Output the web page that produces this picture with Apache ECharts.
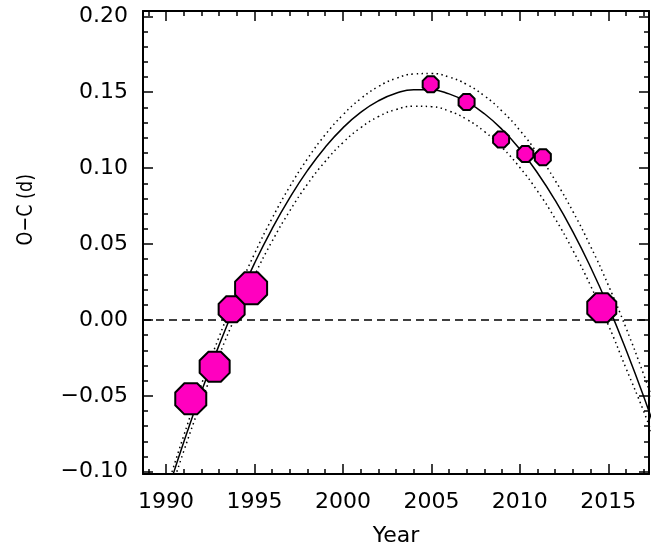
<!DOCTYPE html>
<html>
<head>
<meta charset="utf-8">
<script src="https://cdn.jsdelivr.net/npm/echarts@6/dist/echarts.min.js"></script>
<style>html,body{margin:0;padding:0;background:#fff}#c{width:670px;height:552px}</style>
</head>
<body>
<div id="c"></div>
<script>
// ---- data ----
const obsYears = [1991.40, 1992.75, 1993.71, 1994.81, 2004.96, 2006.99, 2008.94, 2010.31, 2011.30, 2014.63];
const obsOC    = [-0.0520, -0.0308, 0.0070, 0.0209, 0.1553, 0.1436, 0.1188, 0.1093, 0.1071, 0.0080];
const fitYears = [1990,1991,1992,1993,1994,1995,1996,1997,1998,1999,2000,2001,2002,2003,2004,2005,2006,2007,2008,2009,2010,2011,2012,2013,2014,2015,2016,2017,2018];
const fitOC    = [-0.1165,-0.0806,-0.0473,-0.0166,0.0116,0.0372,0.0602,0.0806,0.0985,0.1138,0.1265,0.1367,0.1443,0.1493,0.1517,0.1516,0.1489,0.1436,0.1358,0.1254,0.1124,0.0968,0.0787,0.0580,0.0347,0.0089,-0.0196,-0.0505,-0.0841];
const upperOC  = [-0.1127,-0.0763,-0.0425,-0.0112,0.0174,0.0435,0.0670,0.0879,0.1062,0.1220,0.1351,0.1457,0.1537,0.1591,0.1620,0.1623,0.1600,0.1551,0.1476,0.1375,0.1249,0.1096,0.0918,0.0714,0.0484,0.0229,-0.0053,-0.0360,-0.0693];
const lowerOC  = [-0.1219,-0.0866,-0.0538,-0.0235,0.0042,0.0293,0.0519,0.0719,0.0895,0.1044,0.1168,0.1266,0.1339,0.1386,0.1408,0.1405,0.1376,0.1321,0.1241,0.1135,0.1004,0.0848,0.0666,0.0458,0.0225,-0.0033,-0.0318,-0.0602,-0.0912];
const xTickLabels = [1990, 1995, 2000, 2005, 2010, 2015];
const yTickLabels = [-0.10, -0.05, 0.00, 0.05, 0.10, 0.15, 0.20];

// ---- styling ----
const markerSizes = [31, 30, 26, 32, 16, 16, 16, 16, 16, 29];
const X_MIN = 1988.7, X_MAX = 2017.3, Y_MIN = -0.1015, Y_MAX = 0.2035;
const FONT = 'DejaVu Sans';
const FS = 22;
const octagon = 'path://M-0.414,-1L0.414,-1L1,-0.414L1,0.414L0.414,1L-0.414,1L-1,0.414L-1,-0.414Z';

const xMinor = []; for (let y = 1989; y <= 2017; y++) xMinor.push(y);
const yMinor = []; for (let k = -10; k <= 20; k++) yMinor.push(k / 100);

function axLine(show) {
  return show ? { show: true, onZero: false, lineStyle: { color: '#000', width: 2 } } : { show: false, onZero: false };
}
function xAx(pos, ticks, len, labels, showLine) {
  return {
    type: 'value', position: pos, min: X_MIN, max: X_MAX,
    axisLine: axLine(showLine),
    splitLine: { show: false },
    axisTick: { show: true, inside: true, length: len, customValues: ticks, lineStyle: { color: '#000', width: 1.5 } },
    axisLabel: labels ? { show: true, customValues: xTickLabels, formatter: v => String(Math.round(v)), color: '#000', fontFamily: FONT, fontSize: FS, margin: 17 } : { show: false },
    name: labels ? 'Year' : '', nameLocation: 'middle', nameGap: 51,
    nameTextStyle: { color: '#000', fontFamily: FONT, fontSize: FS }
  };
}
function yAx(pos, ticks, len, labels, showLine) {
  return {
    type: 'value', position: pos, min: Y_MIN, max: Y_MAX,
    axisLine: axLine(showLine),
    splitLine: { show: false },
    axisTick: { show: true, inside: true, length: len, customValues: ticks, lineStyle: { color: '#000', width: 1.5 } },
    axisLabel: labels ? { show: true, customValues: yTickLabels, formatter: v => (v < -1e-9 ? '\u2212' : '') + Math.abs(v).toFixed(2), color: '#000', fontFamily: FONT, fontSize: FS, margin: 15 } : { show: false }
  };
}

const chart = echarts.init(document.getElementById('c'), null, { renderer: 'canvas' });
const pair = (xs, ys) => xs.map((x, i) => [x, ys[i]]);
chart.setOption({
  animation: false,
  backgroundColor: '#fff',
  grid: { left: 143, right: 21, top: 11, bottom: 72, containLabel: false },
  xAxis: [
    xAx('bottom', xTickLabels, 10, true, true),
    xAx('bottom', xMinor, 5, false, false),
    xAx('top', xTickLabels, 10, false, true),
    xAx('top', xMinor, 5, false, false)
  ],
  yAxis: [
    yAx('left', yTickLabels, 10, true, true),
    yAx('left', yMinor, 5, false, false),
    yAx('right', yTickLabels, 10, false, true),
    yAx('right', yMinor, 5, false, false)
  ],
  graphic: [{
    type: 'text', left: 15, top: 174, rotation: Math.PI / 2, scaleX: 0.8,
    style: { text: 'O\u2212C (d)', fill: '#000', font: FS + 'px "DejaVu Sans"' }
  }],
  series: [
    {
      type: 'line', data: pair(fitYears, upperOC), smooth: true, showSymbol: false, silent: true, clip: true,
      lineStyle: { color: '#000', width: 1.5, type: [1.5, 3.5] }, z: 2
    },
    {
      type: 'line', data: pair(fitYears, lowerOC), smooth: true, showSymbol: false, silent: true, clip: true,
      lineStyle: { color: '#000', width: 1.5, type: [1.5, 3.5] }, z: 2
    },
    {
      type: 'line', data: pair(fitYears, fitOC), smooth: true, showSymbol: false, silent: true, clip: true,
      lineStyle: { color: '#000', width: 1.5 }, z: 3,
      markLine: {
        silent: true, symbol: 'none', label: { show: false },
        lineStyle: { color: '#000', width: 1.5, type: [8, 5] },
        data: [{ yAxis: 0 }]
      }
    },
    {
      type: 'scatter', data: pair(obsYears, obsOC), symbol: octagon,
      symbolSize: (v, p) => markerSizes[p.dataIndex],
      itemStyle: { color: '#FF00BF', borderColor: '#000', borderWidth: 2, opacity: 1 }, z: 5
    }
  ]
});
</script>
</body>
</html>
